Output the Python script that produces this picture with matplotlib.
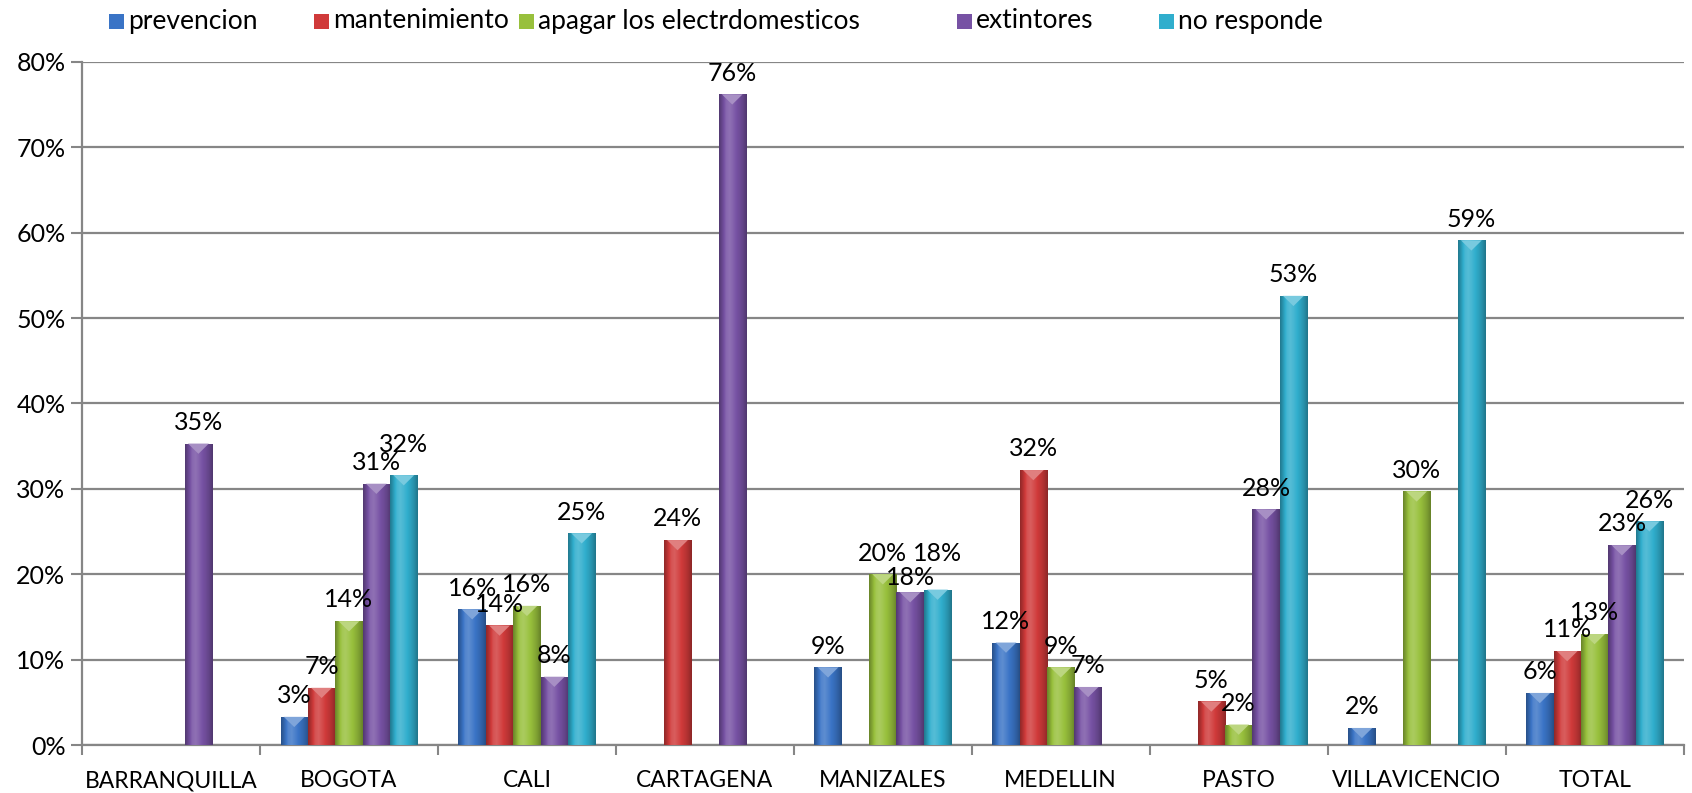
import numpy as np
import matplotlib.pyplot as plt
from matplotlib.colors import to_rgb
from matplotlib.patches import Polygon, Rectangle

# datos
ciudades = ['BARRANQUILLA', 'BOGOTA', 'CALI', 'CARTAGENA', 'MANIZALES',
            'MEDELLIN', 'PASTO', 'VILLAVICENCIO', 'TOTAL']
prevencion = [0, 0.033, 0.159, 0, 0.091, 0.120, 0, 0.020, 0.061]
mantenimiento = [0, 0.067, 0.140, 0.240, 0, 0.322, 0.051, 0, 0.110]
apagar = [0, 0.145, 0.163, 0, 0.200, 0.091, 0.024, 0.297, 0.130]
extintores = [0.353, 0.306, 0.080, 0.762, 0.179, 0.068, 0.276, 0, 0.234]
no_responde = [0, 0.316, 0.248, 0, 0.182, 0, 0.526, 0.591, 0.262]

series = ['prevencion', 'mantenimiento', 'apagar los electrdomesticos',
          'extintores', 'no responde']
valores = [prevencion, mantenimiento, apagar, extintores, no_responde]
colores = ['#3a74c6', '#d03a3a', '#98c03c', '#7752a4', '#30aecd']

# desplazamiento vertical extra (puntos) de algunas etiquetas, como en el original
ajustes = {(4, 1): 7, (3, 4): -5, (4, 4): 11}

plt.rcParams['font.family'] = ['Lato', 'DejaVu Sans']

fig = plt.figure(figsize=(16.92, 7.93), dpi=100)
ax = fig.add_axes([0.0485, 0.0605, 0.9465, 0.8615])

x = np.arange(len(ciudades))
ancho = 1 / 6.5


def mezclar(c, f):
    c = np.array(to_rgb(c))
    if f >= 0:
        return c + (1 - c) * f
    return c * (1 + f)


perfil = np.array([-0.30, -0.10, 0.12, 0.18, 0.10, 0.0, -0.08, -0.18, -0.32])

for i, (nombre, vals, col) in enumerate(zip(series, valores, colores)):
    pos = x + (i - 2) * ancho
    barras = ax.bar(pos, vals, width=ancho, color=col, linewidth=0,
                    label=nombre, zorder=3)
    # degradado horizontal tipo bisel
    grad = np.array([[mezclar(col, f) for f in np.interp(np.linspace(0, 1, 40),
                                                           np.linspace(0, 1, len(perfil)), perfil)]])
    for j, (b, v) in enumerate(zip(barras, vals)):
        if v <= 0:
            continue
        x0, w, h = b.get_x(), b.get_width(), b.get_height()
        im = ax.imshow(grad, extent=[x0, x0 + w, 0, h], aspect='auto',
                       zorder=3.5, interpolation='bilinear')
        im.set_clip_path(b)
        # triangulo superior del bisel
        d = min(0.012, h)
        tri = Polygon([[x0 + w * 0.12, h], [x0 + w * 0.88, h], [x0 + w / 2, h - d]],
                      closed=True, color=mezclar(col, 0.35), lw=0, zorder=3.6)
        ax.add_patch(tri)
        ax.annotate(f'{v * 100:.0f}%', (x0 + w / 2, h),
                    xytext=(0, 7 + ajustes.get((i, j), 0)),
                    textcoords='offset points', ha='center', va='bottom',
                    fontsize=18, zorder=5)

ax.set_xlim(-0.5, len(ciudades) - 0.5)
ax.set_ylim(0, 0.8)
ax.set_yticks(np.arange(0, 0.81, 0.1))
ax.set_yticklabels([f'{int(round(t * 100))}%' for t in np.arange(0, 0.81, 0.1)])
ax.set_xticks(x)
ax.set_xticklabels(ciudades)
ax.set_xticks(np.arange(-0.5, len(ciudades)), minor=True)
ax.tick_params(axis='x', which='major', length=0, labelsize=16.5, pad=18)
ax.tick_params(axis='x', which='minor', length=7, width=1.5, color='#868686')
ax.tick_params(axis='y', length=8, width=1.5, color='#868686', labelsize=18, pad=4)
ax.grid(axis='y', color='#868686', linewidth=1.6, zorder=0)
ax.set_axisbelow(True)
for lado in ['top', 'right']:
    ax.spines[lado].set_visible(False)
for lado in ['left', 'bottom']:
    ax.spines[lado].set_color('#868686')
    ax.spines[lado].set_linewidth(1.6)

# leyenda arriba, como en Excel
ley_x = [109, 314, 519, 957, 1159]
W, H = 1692, 793
for lx, nombre, col in zip(ley_x, series, colores):
    fig.patches.append(Rectangle((lx / W, (H - 29) / H), 15 / W, 15 / H,
                                 transform=fig.transFigure, color=col, lw=0))
    fig.text((lx + 19) / W, (H - 21) / H, nombre, fontsize=19, va='center', ha='left')

fig.savefig('out.png', dpi=100)
